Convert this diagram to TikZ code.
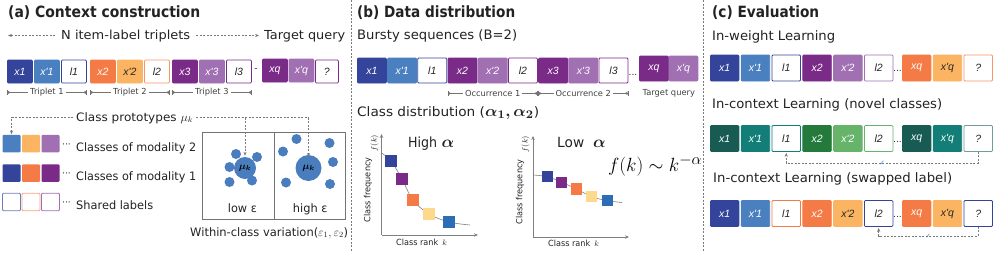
\documentclass[tikz,border=0pt]{standalone}
\usepackage{amsmath,bm,graphicx}
\usepackage{fontspec}
\setmainfont{DejaVu Sans}
\newfontfamily\djv{DejaVu Sans}
\newfontfamily\lbl{Liberation Sans}
\usetikzlibrary{arrows.meta,calc}
\newcommand\fw[2]{\resizebox{#1pt}{\height}{#2}}
\definecolor{cDB}{HTML}{33449A}
\definecolor{cB}{HTML}{4B80C0}
\definecolor{cOr}{HTML}{F47B45}
\definecolor{cLO}{HTML}{FBB562}
\definecolor{cPu}{HTML}{7A2A87}
\definecolor{cLP}{HTML}{A070B3}
\definecolor{cDT}{HTML}{175B53}
\definecolor{cT}{HTML}{137E78}
\definecolor{cDG}{HTML}{247A3A}
\definecolor{cLG}{HTML}{66B36A}
\definecolor{cGT}{HTML}{6F9E9A}
\definecolor{cY}{HTML}{FDD98B}
\definecolor{cPB}{HTML}{2C6DB6}
\definecolor{cDot}{HTML}{4A7DBE}
\definecolor{cGr}{HTML}{7A7A7A}
\definecolor{cTx}{HTML}{222222}
\begin{document}
\begin{tikzpicture}[x=1pt,y=-1pt,
  bx/.style={rectangle,rounded corners=1pt,inner sep=0pt,line width=0.8pt,anchor=west,
    font=\lbl\fontsize{10.5}{10}\selectfont\itshape},
  fb/.style={bx,fill=#1,draw=#1,text=white},
  fbk/.style={bx,fill=#1,draw=#1,text=black!85},
  ob/.style={bx,fill=white,draw=#1,text=black!85},
  sa/.style={minimum width=25pt,minimum height=23pt},
  sb/.style={minimum width=29pt,minimum height=25pt},
  sc/.style={minimum width=28.5pt,minimum height=26pt},
  lg/.style={rectangle,rounded corners=1pt,minimum width=18pt,minimum height=17.5pt,inner sep=0pt,line width=0.8pt},
  dsh/.style={draw=cGr,dash pattern=on 2pt off 1.5pt,line width=0.6pt},
  tipa/.style={-{Stealth[length=4pt,width=3.2pt]}},
  brk/.style={draw=black!55,line width=0.6pt,{Bar[width=5pt]Stealth[length=3pt,width=3.5pt,reversed]}-{Stealth[length=3pt,width=3.5pt,reversed]Bar[width=5pt]}},
  brl/.style={fill=white,inner sep=2pt,text=black!75,font=\fontsize{8.3}{9}\selectfont},
  ttl/.style={anchor=base west,inner sep=0pt,text=cTx,font=\fontsize{15.5}{16}\selectfont\bfseries},
  txt/.style={anchor=base west,inner sep=0pt,text=cTx,font=\fontsize{13}{13}\selectfont},
  txa/.style={anchor=base west,inner sep=0pt,text=cTx,font=\fontsize{11.6}{12}\selectfont},
  dot/.style={circle,fill=cDot,inner sep=0pt,minimum size=10pt},
  sq/.style={rectangle,fill=#1,inner sep=0pt,minimum size=11.5pt},
  axs/.style={draw=black!50,line width=0.7pt,-{Stealth[length=4pt,width=3.5pt]}},
  crv/.style={draw=black!50,line width=0.6pt},
  sml/.style={inner sep=0pt,text=cTx,font=\fontsize{8.5}{9}\selectfont},
]
\useasboundingbox (0,0) rectangle (996,252);
% dividers
\draw[dsh] (351,0) -- (351,252);
\draw[dsh] (703,0) -- (703,252);

%%%%%%%%%%%%%%%% (a)
\node[ttl] (ta) at (8,17) {\fw{192}{(a) Context construction}};
\node[txa,font=\fontsize{12.4}{12}\selectfont] (ntr) at (61,39.5) {\fw{129}{N item-label triplets}};
\node[txa,font=\fontsize{12.4}{12}\selectfont] (tq) at (264,39.5) {\fw{81}{Target query}};
\coordinate (nl) at (8,35.5);
\draw[dsh,tipa] ([xshift=-6pt]ntr.west |- nl) -- (nl);
\draw[dsh,tipa] ([xshift=6pt]ntr.east |- nl) -- ([xshift=-5pt]tq.west |- nl);

\node[fb=cDB,sa] (a1) at (7,71.5) {x1};
\node[fb=cB,sa] (a2) at (34,71.5) {x'1};
\node[ob=cDB,sa] (a3) at (61,71.5) {l1};
\node[fb=cOr,sa] (a4) at (90,71.5) {x2};
\node[fbk=cLO,sa] (a5) at (117,71.5) {x'2};
\node[ob=cOr!80,sa] (a6) at (144,71.5) {l2};
\node[fb=cPu,sa] (a7) at (172,71.5) {x3};
\node[fb=cLP,sa] (a8) at (199,71.5) {x'3};
\node[ob=cPu,sa] (a9) at (226,71.5) {l3};
\node[inner sep=0pt,text=cTx,font=\small] (ad) at (256,70) {-};
\node[fb=cPu,sa] (aq1) at (262,70.5) {xq};
\node[fb=cLP,sa] (aq2) at (288.5,70.5) {x'q};
\node[ob=cPu,sa,minimum width=23pt] (aq3) at (315,71.5) {?};

\draw[brk] ([yshift=-9pt]a1.south west) -- ([yshift=-9pt]a3.south east) node[midway,brl] {Triplet 1};
\draw[brk] ([yshift=-9pt]a4.south west) -- ([yshift=-9pt]a6.south east) node[midway,brl] {Triplet 2};
\draw[brk] ([yshift=-9pt]a7.south west) -- ([yshift=-9pt]a9.south east) node[midway,brl] {Triplet 3};

% legend
\node[lg,fill=cB] (l11) at (11.5,143.5) {};
\node[lg,fill=cLO] (l12) at (31,143.5) {};
\node[lg,fill=cLP] (l13) at (50.5,143.5) {};
\node[lg,fill=cDB] (l21) at (11.5,173) {};
\node[lg,fill=cOr] (l22) at (31,173) {};
\node[lg,fill=cPu] (l23) at (50.5,173) {};
\node[lg,draw=cDB!70,fill=white] (l31) at (11.5,202) {};
\node[lg,draw=cOr!70,fill=white] (l32) at (31,202) {};
\node[lg,draw=cLP,fill=white] (l33) at (50.5,202) {};
\node[txa,anchor=base west,font=\fontsize{9}{9}\selectfont] at (62,147) {···};
\node[txa,anchor=base west,font=\fontsize{9}{9}\selectfont] at (62,176.5) {···};
\node[txa,anchor=base west,font=\fontsize{9}{9}\selectfont] at (62,205.5) {···};
\node[txa] (m2) at (76,151) {\fw{120}{Classes of modality 2}};
\node[txa] (m1) at (76,180) {\fw{120}{Classes of modality 1}};
\node[txa] (sl) at (76,209) {\fw{77}{Shared labels}};

% epsilon boxes
\draw[draw=black!55,line width=0.7pt] (202,132) rectangle (345,219);
\draw[draw=black!55,line width=0.7pt] (274,132) -- (274,219);
\node[circle,fill=cDot,inner sep=0pt,minimum size=22pt] (mu1) at (245,168) {$\bm{\mu_k}$};
\node[circle,fill=cDot,inner sep=0pt,minimum size=26pt] (mu2) at (308.5,168) {$\bm{\mu_k}$};
\foreach \p in {(236,154),(257,157),(229.5,167),(252,180.5),(229.5,182)} \node[dot] at \p {};
\foreach \p in {(296.5,139),(329.5,143),(283,151.5),(333,162),(286,182.5),(330,184)} \node[dot] at \p {};
\node[txa,anchor=base west] (le) at (227.7,212.5) {\fw{29}{low ε}};
\node[txa,anchor=base west] (he) at (292.7,212.5) {\fw{34.6}{high ε}};
\node[txa] (wc) at (190,236) {\fw{158}{Within-class variation($\varepsilon_1,\varepsilon_2$)}};

% class prototypes
\node[txa] (cp) at (76,121) {\fw{117}{Class prototypes $\mu_k$}};
\coordinate (cpy) at (0,117.5);
\draw[dsh,tipa] ([xshift=-3pt]cp.west |- cpy) -- (l11.north |- cpy) -- (l11.north);
\draw[dsh] ([xshift=3pt]cp.east |- cpy) -- (mu2.north |- cpy);
\draw[dsh,tipa] (mu1.north |- cpy) -- ([yshift=1pt]mu1.north);
\draw[dsh,tipa] (mu2.north |- cpy) -- ([yshift=-2pt]mu2.north);

%%%%%%%%%%%%%%%% (b)
\node[ttl] (tb) at (357,17) {\fw{158}{(b) Data distribution}};
\node[txt] (bs) at (357,39.5) {\fw{160}{Bursty sequences (B=2)}};
\node[fb=cDB,sb] (b1) at (357,70.5) {x1};
\node[fb=cB,sb] (b2) at (387.2,70.5) {x'1};
\node[ob=cDB,sb] (b3) at (417.4,70.5) {l1};
\node[fb=cPu,sb] (b4) at (447.6,70.5) {x2};
\node[fb=cLP,sb] (b5) at (477.8,70.5) {x'2};
\node[ob=cPu,sb] (b6) at (508,70.5) {l2};
\node[fb=cPu,sb] (b7) at (538.2,70.5) {x3};
\node[fb=cLP,sb] (b8) at (568.4,70.5) {x'3};
\node[ob=cPu,sb] (b9) at (598.6,70.5) {l3};
\node[inner sep=0pt,text=cTx,font=\small] (bd) at (633,75) {...};
\node[fb=cPu,sb] (bq1) at (639,68.5) {xq};
\node[fb=cLP,sb] (bq2) at (668.5,68.5) {x'q};
\draw[brk] ([yshift=-10pt]b4.south west) -- ([yshift=-10pt]b6.south east) node[midway,brl] {Occurrence 1};
\draw[brk] ([yshift=-10pt]b7.south west) -- ([yshift=-10pt]b9.south east) node[midway,brl] {Occurrence 2};
\node[brl,anchor=north] at ($(bq1.south east)+(0,6)$) {Target query};
\node[txt] (cd) at (357,116) {\fw{182}{Class distribution (\scalebox{1.3}{$\boldsymbol{\alpha_1,\alpha_2}$})}};

% high alpha plot
\coordinate (ho) at (381.5,235);
\draw[axs] (ho) -- (381.5,134);
\draw[axs] (ho) -- (478,235);
\draw[crv] plot[smooth,tension=0.6] coordinates {(381.5,153) (391,161) (402,179) (413,200) (429,214) (449,222) (470,225)};
\node[sq=cDB] (h1) at (391,161) {};
\node[sq=cPu] (h2) at (402,179) {};
\node[sq=cOr] (h3) at (413,200) {};
\node[sq=cY] (h4) at (429,214) {};
\node[sq=cPB] (h5) at (449,222) {};
\node[sml,rotate=90] at (368,190) {\fw{65}{Class frequency}};
\node[sml,rotate=90] at (374.5,143) {$f(k)$};
\node[sml,anchor=base west] at (396,245) {\fw{42}{Class rank}\ \,$k$};
\node[inner sep=0pt,text=cTx,font=\fontsize{14}{14}\selectfont,anchor=base west] at (408,147) {\fw{29}{High}\ \scalebox{1.15}{$\boldsymbol{\alpha}$}};

% low alpha plot
\coordinate (lo) at (533,237);
\draw[axs] (lo) -- (533,136);
\draw[axs] (lo) -- (629,237);
\draw[crv] plot[smooth,tension=0.6] coordinates {(533,175) (547.3,176.7) (561.7,182.3) (576.7,189) (591.7,196.7) (607.7,200.7) (622,202.5)};
\node[sq=cDB] (w1) at (547.3,176.7) {};
\node[sq=cPu] (w2) at (561.7,182.3) {};
\node[sq=cOr] (w3) at (576.7,189) {};
\node[sq=cY] (w4) at (591.7,196.7) {};
\node[sq=cPB] (w5) at (607.7,200.7) {};
\node[sml,rotate=90] at (520,192) {\fw{65}{Class frequency}};
\node[sml,rotate=90] at (525.5,144) {$f(k)$};
\node[sml,anchor=base west] at (548,246) {\fw{42}{Class rank}\ \,$k$};
\node[inner sep=0pt,text=cTx,font=\fontsize{14}{14}\selectfont,anchor=base west] at (557,147) {\fw{27}{Low}\ \ \scalebox{1.15}{$\boldsymbol{\alpha}$}};
\node[inner sep=0pt,text=black,font=\fontsize{19}{19}\selectfont,anchor=west] at (608,166) {\resizebox{94pt}{!}{$f(k)\sim k^{-\alpha}$}};

%%%%%%%%%%%%%%%% (c)
\node[ttl] (tc) at (712,17) {\fw{107}{(c) Evaluation}};
\node[txt] (iw) at (712,40.5) {\fw{123}{In-weight Learning}};
\node[fb=cDB,sc] (c11) at (710,68) {x1};
\node[fb=cB,sc] (c12) at (740.8,68) {x'1};
\node[ob=cDB,sc] (c13) at (771.6,68) {l1};
\node[fb=cPu,sc] (c14) at (802.4,68) {x2};
\node[fb=cLP,sc] (c15) at (833.2,68) {x'2};
\node[ob=cLP,sc] (c16) at (864,68) {l2};
\node[inner sep=0pt,text=cTx,font=\small] at (897.5,71) {...};
\node[fb=cOr,sc] (c17) at (902,68) {xq};
\node[fbk=cLO,sc] (c18) at (932.8,68) {x'q};
\node[ob=cOr!80,sc] (c19) at (963.6,68) {?};

\node[txt] (ic) at (712,108) {\fw{230}{In-context Learning (novel classes)}};
\node[fb=cDT,sc] (c21) at (710,138.5) {x1};
\node[fb=cT,sc] (c22) at (740.8,138.5) {x'1};
\node[ob=cT,sc] (c23) at (771.6,138.5) {l1};
\node[fb=cDG,sc] (c24) at (802.4,138.5) {x2};
\node[fb=cLG,sc] (c25) at (833.2,138.5) {x'2};
\node[ob=cLG,sc] (c26) at (864,138.5) {l2};
\node[inner sep=0pt,text=cTx,font=\small] at (897.5,141.5) {...};
\node[fb=cDT,sc] (c27) at (902,138.5) {xq};
\node[fb=cT,sc] (c28) at (932.8,138.5) {x'q};
\node[ob=cGT,sc] (c29) at (963.6,138.5) {?};
\coordinate (r2) at (0,163);
\draw[dsh,tipa] (c29.south) -- (c29.south |- r2) -- (c23.south |- r2) -- ([yshift=-1pt]c23.south);
\node[text=cDot,inner sep=0pt,font=\djv\fontsize{7}{7}\selectfont] at (882,163.5) {✓};

\node[txt] (is) at (713,182.5) {\fw{239}{In-context Learning (swapped label)}};
\node[fb=cDB,sc] (c31) at (710,213.5) {x1};
\node[fb=cB,sc] (c32) at (740.8,213.5) {x'1};
\node[ob=cOr,sc] (c33) at (771.6,213.5) {l1};
\node[fb=cOr,sc] (c34) at (802.4,213.5) {x2};
\node[fbk=cLO,sc] (c35) at (833.2,213.5) {x'2};
\node[ob=cDB,sc] (c36) at (864,213.5) {l2};
\node[inner sep=0pt,text=cTx,font=\small] at (897.5,216.5) {...};
\node[fb=cOr,sc] (c37) at (902,213.5) {xq};
\node[fbk=cLO,sc] (c38) at (932.8,213.5) {x'q};
\node[ob=cDB,sc] (c39) at (963.6,213.5) {?};
\coordinate (r3) at (0,236);
\draw[dsh,tipa] (c39.south) -- (c39.south |- r3) -- (c36.south |- r3) -- ([yshift=-1pt]c36.south);
\node[text=cDot,inner sep=0pt,font=\djv\fontsize{7}{7}\selectfont] at (928,236.5) {✓};
\end{tikzpicture}
\end{document}
